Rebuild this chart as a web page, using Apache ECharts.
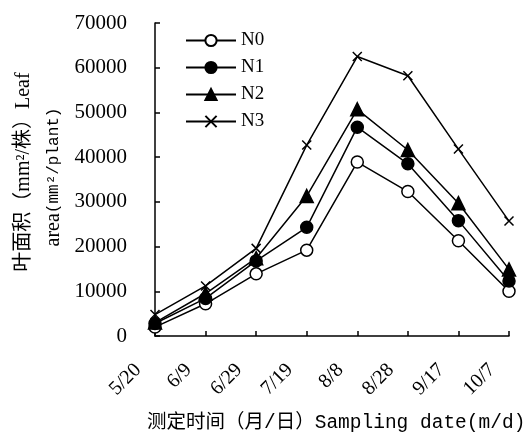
<!DOCTYPE html>
<html>
<head>
<meta charset="utf-8">
<script src="https://cdn.jsdelivr.net/npm/echarts@6/dist/echarts.min.js"></script>
<style>html,body{margin:0;padding:0;background:#fff}#c{width:530px;height:438px}</style>
</head>
<body>
<div id="c"></div>
<script>
const categories = ['5/20','6/9','6/29','7/19','8/8','8/28','9/17','10/7'];
const N0 = [2000, 7200, 13900, 19200, 38900, 32300, 21300, 10000];
const N1 = [2800, 8400, 16800, 24300, 46700, 38500, 25800, 12300];
const N2 = [3000, 9500, 17400, 31300, 50700, 41600, 29700, 14900];
const N3 = [4800, 11200, 19600, 42700, 62500, 58200, 41800, 25700];
const seriesNames = ['N0','N1','N2','N3'];
const xTitle = '测定时间（月/日）Sampling date(m/d)';
const yTitle1 = '叶面积（mm²/株）Leaf';
const yTitle2a = 'area';
const yTitle2b = '(mm²/plant)';

const serif = '"Liberation Serif", "Noto Sans CJK SC", serif';
const chart = echarts.init(document.getElementById('c'));
const X = 'path://M0,0L10,10M10,0L0,10';
function mk(name, data, symbol, fill, size) {
  return {
    name, type: 'line', data, symbol, symbolSize: size,
    lineStyle: {color: '#000', width: 1.5},
    itemStyle: {color: fill, borderColor: '#000', borderWidth: 1.5},
    emphasis: {disabled: true}, animation: false, z: 3
  };
}
chart.setOption({
  animation: false,
  grid: {left: 155, right: 21, top: 23, bottom: 102},
  legend: {
    orient: 'vertical', left: 180, top: 26,
    itemWidth: 50, itemHeight: 14, itemGap: 8,
    textStyle: {fontFamily: serif, fontSize: 19, color: '#000'},
    data: seriesNames
  },
  xAxis: {
    type: 'category', data: categories, boundaryGap: false,
    axisLine: {lineStyle: {color: '#000', width: 1.5}},
    axisTick: {inside: true, length: 5, lineStyle: {color: '#000', width: 1.5}, alignWithLabel: true},
    axisLabel: {rotate: 45, margin: 14, padding: [0, 24, 0, 0], fontFamily: serif, fontSize: 20, color: '#000', interval: 0}
  },
  yAxis: {
    type: 'value', min: 0, max: 70000, interval: 10000,
    splitLine: {show: false},
    axisLine: {show: true, lineStyle: {color: '#000', width: 1.5}},
    axisTick: {show: true, inside: true, length: 5, lineStyle: {color: '#000', width: 1.5}},
    axisLabel: {margin: 28, fontFamily: serif, fontSize: 21, color: '#000', formatter: v => String(v)}
  },
  graphic: [
    {type: 'text', left: 147, top: 413, style: {text: xTitle, font: '19.5px "Liberation Mono", "Noto Sans CJK SC", monospace', fill: '#000'}},
    {type: 'text', x: 24, y: 172, rotation: Math.PI / 2, style: {text: yTitle1, font: '20px "Liberation Serif", "Noto Sans CJK SC", serif', fill: '#000', align: 'center', verticalAlign: 'middle'}},
    {type: 'text', x: 54, y: 177, rotation: Math.PI / 2, style: {
      text: '{a|' + yTitle2a + '}{b|' + yTitle2b + '}',
      align: 'center', verticalAlign: 'middle',
      rich: {
        a: {font: '20px "Liberation Serif", serif', fill: '#000'},
        b: {font: '16px "Liberation Mono", monospace', fill: '#000'}
      }
    }}
  ],
  series: [
    mk('N0', N0, 'circle', '#fff', 12),
    mk('N1', N1, 'circle', '#000', 12),
    mk('N2', N2, 'triangle', '#000', 13),
    mk('N3', N3, X, '#000', 9)
  ]
});
</script>
</body>
</html>
